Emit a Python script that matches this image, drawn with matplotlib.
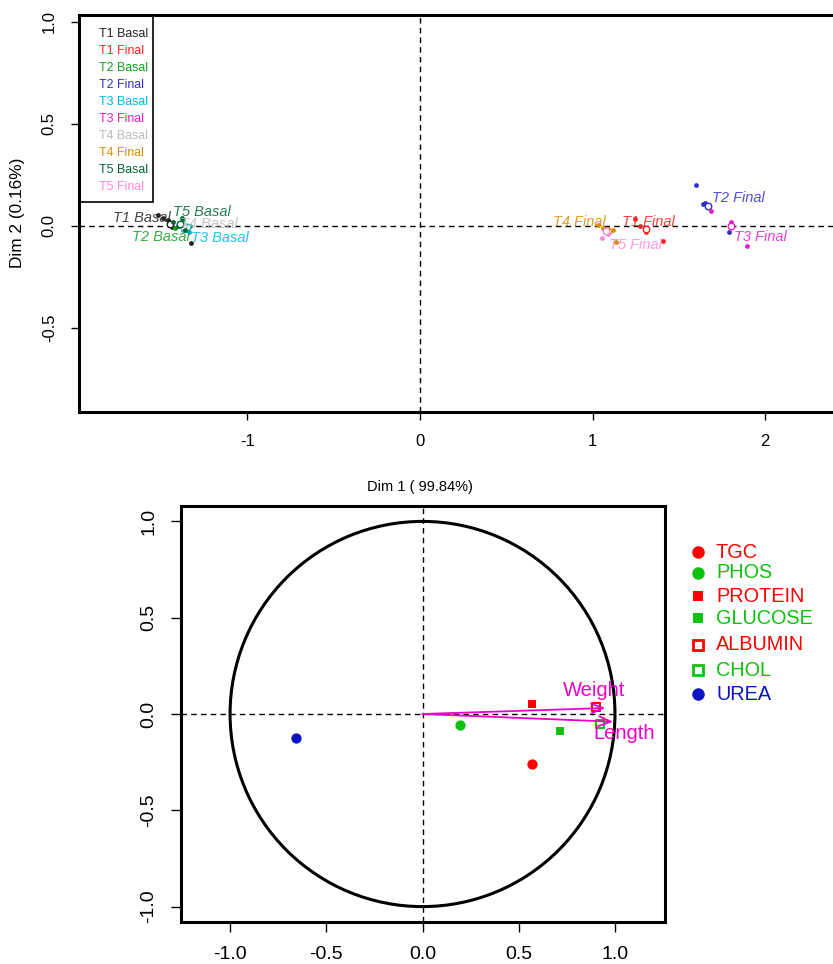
import matplotlib
matplotlib.use("Agg")
import matplotlib.pyplot as plt
from matplotlib.patches import Circle, Rectangle
from matplotlib.lines import Line2D

SANS = ['Liberation Sans', 'DejaVu Sans']

# ---- individuals factor map (top) ----
groups = ["T1 Basal", "T1 Final", "T2 Basal", "T2 Final", "T3 Basal",
          "T3 Final", "T4 Basal", "T4 Final", "T5 Basal", "T5 Final"]
group_colors = ["#222222", "#ff2020", "#10a020", "#3030d0", "#00b4e6",
                "#e61ec8", "#bbbbbb", "#d98c0a", "#006633", "#ff88dd"]

ind_x = [
    [-1.52, -1.486, -1.457, -1.447, -1.438, -1.326],
    [1.247, 1.274, 1.309, 1.31, 1.405],
    [-1.42, -1.37, -1.35, -1.33],
    [1.60, 1.64, 1.65, 1.79],
    [-1.37, -1.34, -1.355],
    [1.685, 1.80, 1.80, 1.895],
    [-1.39, -1.37, -1.36],
    [1.032, 1.061, 1.09, 1.116, 1.135],
    [-1.43, -1.40, -1.38, -1.36],
    [1.052, 1.071, 1.087],
]
ind_y = [
    [0.054, 0.041, 0.03, 0.013, -0.003, -0.085],
    [0.034, 0.0, -0.028, -0.015, -0.072],
    [-0.01, 0.03, -0.02, 0.0],
    [0.20, 0.106, 0.114, -0.028],
    [-0.02, -0.03, -0.01],
    [0.075, 0.02, 0.005, -0.10],
    [0.01, -0.01, 0.0],
    [0.005, -0.008, -0.015, -0.02, -0.077],
    [0.02, 0.0, 0.04, -0.02],
    [-0.06, -0.028, -0.04],
]
# group means (open circles)
mean_x = [-1.45, 1.31, -1.37, 1.67, -1.35, 1.80, -1.37, 1.09, -1.39, 1.08]
mean_y = [0.008, -0.016, 0.0, 0.10, -0.005, 0.0, 0.0, -0.023, 0.01, -0.025]
# label anchors (left edge of text)
label_x = [-1.776, 1.168, -1.669, 1.689, -1.328, 1.82, -1.39, 0.77, -1.432, 1.096]
label_y = [0.041, 0.02, -0.052, 0.136, -0.057, -0.055, 0.008, 0.021, 0.07, -0.093]

# ---- correlation circle (bottom) ----
variables = ["TGC", "PHOS", "PROTEIN", "GLUCOSE", "ALBUMIN", "CHOL", "UREA"]
var_x = [0.57, 0.195, 0.57, 0.715, 0.90, 0.92, -0.66]
var_y = [-0.26, -0.055, 0.05, -0.09, 0.037, -0.05, -0.125]
var_colors = ["#ff0000", "#10c010", "#ff0000", "#10c010", "#ff0000", "#10c010", "#0a14c0"]
var_markers = ["o", "o", "s", "s", "s", "s", "o"]
var_filled = [True, True, True, True, False, False, True]

quant_vars = ["Weight", "Length"]
arrow_x = [0.95, 0.99]
arrow_y = [0.031, -0.04]
quant_label_x = [0.73, 0.886]
quant_label_y = [0.122, -0.10]
magenta = "#ee00cc"

W, H = 833, 964
fig = plt.figure(figsize=(W / 100, H / 100), dpi=100)


def box(l, t, r, b):
    return [l / W, 1 - b / H, (r - l) / W, (b - t) / H]


# top panel
ax1 = fig.add_axes(box(79, 15, 862, 412))
ax1.set_xlim(-1.975, 2.56)
ax1.set_ylim(-0.912, 1.034)
ax1.axhline(0, color="black", lw=1, ls=(0, (4, 3)), zorder=1)
ax1.axvline(0, color="black", lw=1, ls=(0, (4, 3)), zorder=1)
for i, g in enumerate(groups):
    c = group_colors[i]
    ax1.scatter(ind_x[i], ind_y[i], s=12, color=c, zorder=3, linewidths=0)
    ax1.scatter([mean_x[i]], [mean_y[i]], s=22, facecolor="white", edgecolor=c,
                linewidths=1, zorder=3)
    ax1.text(label_x[i], label_y[i], g, color=c, style="italic", fontsize=10.5,
             family=SANS, va="center", ha="left", alpha=0.85, zorder=4)
ax1.set_xticks([-1, 0, 1, 2])
ax1.set_xticklabels(["-1", "0", "1", "2"], family=SANS, fontsize=12)
ax1.set_yticks([-0.5, 0.0, 0.5, 1.0])
ax1.set_yticklabels(["-0.5", "0.0", "0.5", "1.0"], family=SANS, fontsize=12,
                    rotation=90, va="center")
ax1.tick_params(direction="out", length=6, width=1, pad=10)
for sp in ax1.spines.values():
    sp.set_linewidth(2.2)

# legend box of the top panel
fig.add_artist(Rectangle((80 / W, 1 - 202 / H), 73 / W, 186 / H, transform=fig.transFigure,
                         fill=False, edgecolor="black", lw=1.2))
for i, g in enumerate(groups):
    fig.text(99 / W, 1 - (34.3 + 16.93 * i) / H, g, color=group_colors[i], fontsize=8.9,
             family=SANS, va="center", ha="left")

fig.text(420 / W, 1 - 487 / H, "Dim 1 ( 99.84%)", fontsize=10.5, family=SANS,
         ha="center", va="center")
fig.text(18 / W, 1 - 213 / H, "Dim 2 (0.16%)", fontsize=12.4, family=SANS,
         rotation=90, ha="center", va="center")

# bottom panel
ax2 = fig.add_axes(box(181, 506, 665, 922))
ax2.set_xlim(-1.255, 1.26)
ax2.set_ylim(-1.08, 1.08)
ax2.add_patch(Circle((0, 0), 1, fill=False, lw=2.2, edgecolor="black"))
ax2.axhline(0, color="black", lw=1, ls=(0, (4, 3)), zorder=1)
ax2.axvline(0, color="black", lw=1, ls=(0, (4, 3)), zorder=1)
for i in range(len(variables)):
    c = var_colors[i]
    sz = 55 if var_markers[i] == "o" else 38
    ax2.scatter([var_x[i]], [var_y[i]], marker=var_markers[i], s=sz,
                facecolor=c if var_filled[i] else "white", edgecolor=c,
                linewidths=1.5 if not var_filled[i] else 0, zorder=3)
for i in range(len(quant_vars)):
    ax2.annotate("", xy=(arrow_x[i], arrow_y[i]), xytext=(0, 0), zorder=4,
                 arrowprops=dict(arrowstyle="->,head_length=0.6,head_width=0.25",
                                 color=magenta, lw=1.3, mutation_scale=14,
                                 shrinkA=0, shrinkB=0))
    ax2.text(quant_label_x[i], quant_label_y[i], quant_vars[i], color=magenta,
             fontsize=14.5, family=SANS, va="center", ha="left")
ax2.set_xticks([-1.0, -0.5, 0.0, 0.5, 1.0])
ax2.set_xticklabels(["-1.0", "-0.5", "0.0", "0.5", "1.0"], family=SANS, fontsize=14)
ax2.set_yticks([-1.0, -0.5, 0.0, 0.5, 1.0])
ax2.set_yticklabels(["-1.0", "-0.5", "0.0", "0.5", "1.0"], family=SANS, fontsize=14,
                    rotation=90, va="center")
ax2.tick_params(direction="out", length=7, width=1, pad=10)
for sp in ax2.spines.values():
    sp.set_linewidth(2.2)

# legend of the bottom panel
leg_rows = [552, 573, 596, 618, 645, 670, 694]
for i, name in enumerate(variables):
    c = var_colors[i]
    ms = 9 if var_markers[i] == "o" else 7.5
    fig.add_artist(Line2D([698 / W], [1 - leg_rows[i] / H], transform=fig.transFigure,
                          marker=var_markers[i], markersize=ms, linestyle="none",
                          markerfacecolor=c if var_filled[i] else "white",
                          markeredgecolor=c, markeredgewidth=2 if not var_filled[i] else 0))
    fig.text(716 / W, 1 - leg_rows[i] / H, name, color=c, fontsize=14.3, family=SANS,
             va="center", ha="left")

fig.savefig("out.png", dpi=100)
